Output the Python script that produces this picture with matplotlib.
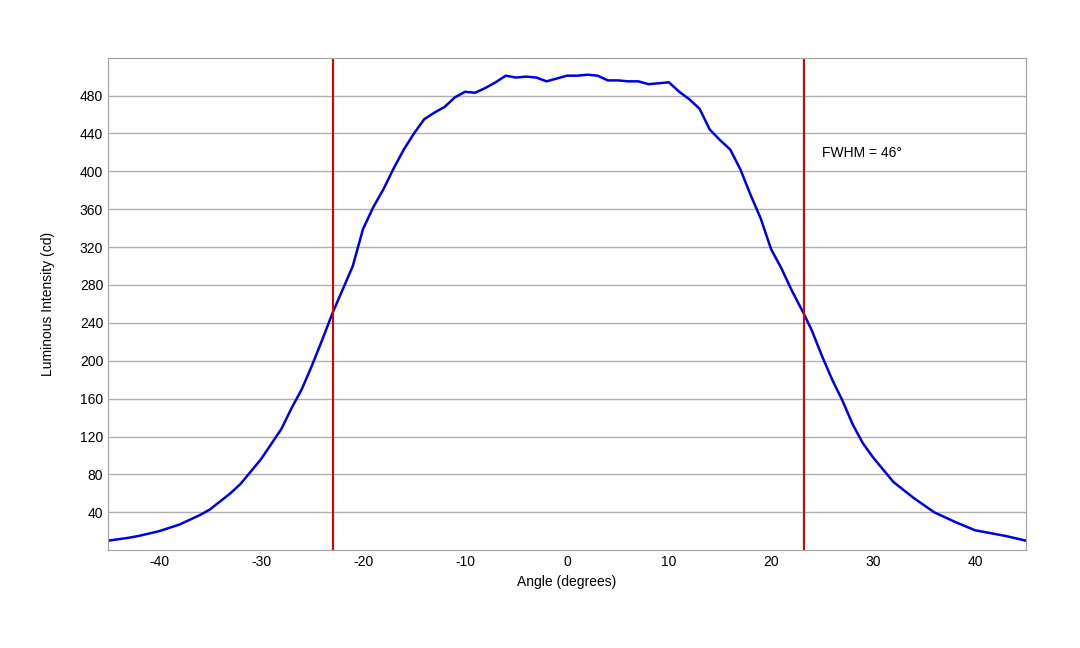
import numpy as np
import matplotlib
matplotlib.use("Agg")
import matplotlib.pyplot as plt
plt.rcParams['axes.unicode_minus'] = False

angles = [-45,-43,-42,-40,-38,-36,-35,-33,-32,-30,-28,-27,-26,-25,-24,-23,-22,-21,-20,-19,-18,-17,-16,-15,-14,-13,-12,-11,-10,-9,-8,-7,-6,-5,-4,-3,-2,-1,0,1,2,3,4,5,6,7,8,9,10,11,12,13,14,15,16,17,18,19,20,21,22,23.2,24,25,26,27,28,29,30,31,32,34,36,38,40,42,43,45]
intensity = [10,13,15,20,27,37,43,60,70,96,128,150,170,195,222,250,275,300,339,362,381,403,423,440,455,462,468,478,484,483,488,494,501,499,500,499,495,498,501,501,502,501,496,496,495,495,492,493,494,484,476,466,444,433,423,402,375,350,318,298,275,250,232,205,180,158,133,113,98,85,72,55,40,30,21,17,15,10]
fwhm_lines = [-22.9, 23.2]
xticks = [-40,-30,-20,-10,0,10,20,30,40]
yticks = list(range(40, 481, 40))

fig = plt.figure(figsize=(10.8, 6.48), dpi=100)
ax = fig.add_axes([0.1, 0.151, 0.85, 0.76])
ax.plot(angles, intensity, color="#0000dd", lw=1.8)
for v in fwhm_lines:
    ax.axvline(v, color="#dd0000", lw=1.5)
ax.text(25, 415, "FWHM = 46°", fontsize=10, family="Liberation Sans")
ax.set_xlim(-45, 45)
ax.set_ylim(0, 520)
ax.set_xticks(xticks)
ax.set_yticks(yticks)
ax.yaxis.grid(True, color="#b0b0b0", lw=1)
ax.set_axisbelow(True)
for s in ax.spines.values():
    s.set_color("#a0a0a0")
ax.tick_params(length=0, labelsize=10)
for lab in ax.get_xticklabels() + ax.get_yticklabels():
    lab.set_family("Liberation Sans")
ax.set_xlabel("Angle (degrees)", fontsize=10, family="Liberation Sans")
ax.set_ylabel("Luminous Intensity (cd)", fontsize=10, family="Liberation Sans", labelpad=18)
fig.savefig("out.png", dpi=100)
